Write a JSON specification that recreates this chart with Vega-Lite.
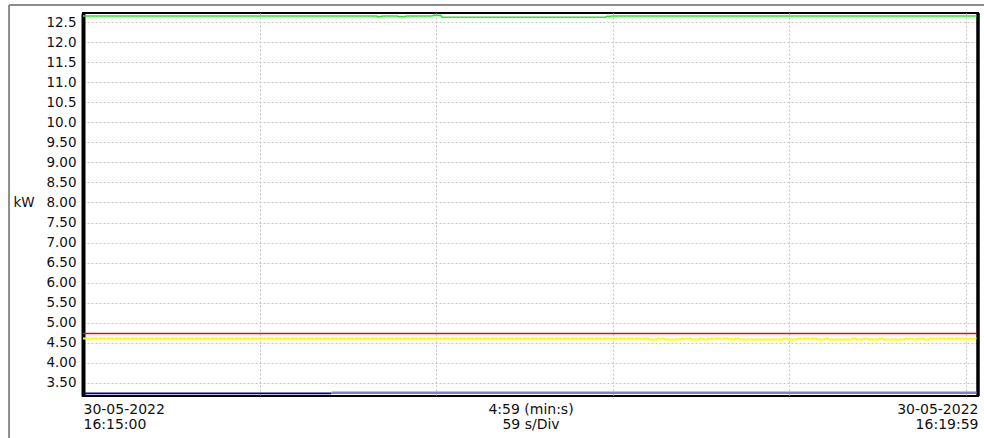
{
  "$schema": "https://vega.github.io/schema/vega-lite/v6.json",
  "width": 895,
  "height": 383,
  "autosize": {"type": "none"},
  "padding": {"left": 83, "top": 13, "right": 6, "bottom": 42},
  "background": "white",
  "config": {
    "view": {"stroke": "black", "strokeWidth": 2},
    "font": "DejaVu Sans"
  },
  "datasets": {
    "series": [
      {"k": "G", "s": 0, "v": 12.65}, {"k": "G", "s": 98, "v": 12.65}, {"k": "G", "s": 98.5, "v": 12.635}, {"k": "G", "s": 99.5, "v": 12.635}, {"k": "G", "s": 100, "v": 12.65},
      {"k": "G", "s": 105, "v": 12.65}, {"k": "G", "s": 105.5, "v": 12.635}, {"k": "G", "s": 107.5, "v": 12.635}, {"k": "G", "s": 108, "v": 12.65},
      {"k": "G", "s": 116.5, "v": 12.65}, {"k": "G", "s": 117, "v": 12.665}, {"k": "G", "s": 119.5, "v": 12.665}, {"k": "G", "s": 120, "v": 12.62},
      {"k": "G", "s": 174.5, "v": 12.62}, {"k": "G", "s": 175, "v": 12.64}, {"k": "G", "s": 176, "v": 12.64}, {"k": "G", "s": 176.5, "v": 12.65}, {"k": "G", "s": 298.5, "v": 12.65},
      {"k": "R", "s": 0, "v": 4.735}, {"k": "R", "s": 298.5, "v": 4.735},
      {"k": "Y", "s": 0, "v": 4.61}, {"k": "Y", "s": 189, "v": 4.61}, {"k": "Y", "s": 189.5, "v": 4.585}, {"k": "Y", "s": 191.5, "v": 4.585},
      {"k": "Y", "s": 192, "v": 4.61}, {"k": "Y", "s": 194, "v": 4.61}, {"k": "Y", "s": 194.5, "v": 4.585}, {"k": "Y", "s": 199.5, "v": 4.585},
      {"k": "Y", "s": 200, "v": 4.61}, {"k": "Y", "s": 203, "v": 4.61}, {"k": "Y", "s": 203.5, "v": 4.585}, {"k": "Y", "s": 205.5, "v": 4.585},
      {"k": "Y", "s": 206, "v": 4.61}, {"k": "Y", "s": 207, "v": 4.61}, {"k": "Y", "s": 207.5, "v": 4.585}, {"k": "Y", "s": 208.5, "v": 4.585},
      {"k": "Y", "s": 209, "v": 4.61}, {"k": "Y", "s": 216, "v": 4.61}, {"k": "Y", "s": 216.5, "v": 4.585}, {"k": "Y", "s": 217.5, "v": 4.585},
      {"k": "Y", "s": 218, "v": 4.61}, {"k": "Y", "s": 219, "v": 4.61}, {"k": "Y", "s": 219.5, "v": 4.585}, {"k": "Y", "s": 233.5, "v": 4.585},
      {"k": "Y", "s": 234, "v": 4.61}, {"k": "Y", "s": 235, "v": 4.61}, {"k": "Y", "s": 235.5, "v": 4.585}, {"k": "Y", "s": 238.5, "v": 4.585},
      {"k": "Y", "s": 239, "v": 4.61}, {"k": "Y", "s": 245, "v": 4.61}, {"k": "Y", "s": 245.5, "v": 4.585}, {"k": "Y", "s": 247.5, "v": 4.585},
      {"k": "Y", "s": 248, "v": 4.61}, {"k": "Y", "s": 249, "v": 4.61}, {"k": "Y", "s": 249.5, "v": 4.585}, {"k": "Y", "s": 256.5, "v": 4.585},
      {"k": "Y", "s": 257, "v": 4.61}, {"k": "Y", "s": 258, "v": 4.61}, {"k": "Y", "s": 258.5, "v": 4.585}, {"k": "Y", "s": 260.5, "v": 4.585},
      {"k": "Y", "s": 261, "v": 4.61}, {"k": "Y", "s": 262, "v": 4.61}, {"k": "Y", "s": 262.5, "v": 4.585}, {"k": "Y", "s": 265.5, "v": 4.585},
      {"k": "Y", "s": 266, "v": 4.61}, {"k": "Y", "s": 267, "v": 4.61}, {"k": "Y", "s": 267.5, "v": 4.585}, {"k": "Y", "s": 274.5, "v": 4.585},
      {"k": "Y", "s": 275, "v": 4.61}, {"k": "Y", "s": 277, "v": 4.61}, {"k": "Y", "s": 277.5, "v": 4.585}, {"k": "Y", "s": 278.5, "v": 4.585},
      {"k": "Y", "s": 279, "v": 4.61}, {"k": "Y", "s": 281, "v": 4.61}, {"k": "Y", "s": 281.5, "v": 4.585}, {"k": "Y", "s": 282.5, "v": 4.585},
      {"k": "Y", "s": 283, "v": 4.61}, {"k": "Y", "s": 295, "v": 4.61}, {"k": "Y", "s": 295.5, "v": 4.585}, {"k": "Y", "s": 296, "v": 4.585},
      {"k": "Y", "s": 296.5, "v": 4.61}, {"k": "Y", "s": 298.5, "v": 4.61},
      {"k": "B1", "s": 0, "v": 3.24}, {"k": "B1", "s": 83, "v": 3.24},
      {"k": "B2", "s": 83, "v": 3.255}, {"k": "B2", "s": 298.5, "v": 3.255}
    ],
    "frame": [
      {"k": "outer", "s": -24.7, "s2": 301.5, "v": 12.925, "v2": 12.925},
      {"k": "outer", "s": -24.7, "s2": -24.7, "v": 12.925, "v2": 2.0},
      {"k": "edge", "s": 299, "s2": 299, "v": 12.725, "v2": 3.175}
    ]
  },
  "encoding": {
    "x": {
      "field": "s",
      "type": "quantitative",
      "scale": {"domain": [0, 299], "nice": false, "zero": false},
      "axis": {
        "title": null,
        "values": [0, 59, 118, 149.5, 177, 236, 295, 299],
        "domain": false,
        "ticks": false,
        "grid": true,
        "gridColor": "#c4c4c4",
        "gridDash": [2, 2],
        "gridWidth": 1,
        "gridOpacity": {"condition": {"test": "datum.value % 59 == 0 && datum.value > 0", "value": 1}, "value": 0},
        "labelExpr": "datum.value == 0 ? ['30-05-2022', '16:15:00'] : datum.value == 149.5 ? ['4:59 (min:s)', '59 s/Div'] : datum.value == 299 ? ['30-05-2022', '16:19:59'] : ''",
        "labelFlush": true,
        "labelFlushOffset": 0,
        "labelOverlap": false,
        "labelBound": false,
        "labelFont": "DejaVu Sans",
        "labelFontSize": 14,
        "labelColor": "#111111",
        "labelBaseline": "top",
        "labelLineHeight": 15.5,
        "labelPadding": 6
      }
    },
    "y": {
      "field": "v",
      "type": "quantitative",
      "scale": {"domain": [3.175, 12.725], "nice": false, "zero": false},
      "axis": {
        "title": "kW",
        "titleAngle": 0,
        "titleAlign": "left",
        "titleBaseline": "middle",
        "titleX": -70,
        "titleY": 189,
        "titleFont": "DejaVu Sans",
        "titleFontSize": 13.5,
        "titleFontWeight": "normal",
        "titleColor": "#111111",
        "values": [3.5, 4, 4.5, 5, 5.5, 6, 6.5, 7, 7.5, 8, 8.5, 9, 9.5, 10, 10.5, 11, 11.5, 12, 12.5],
        "labelExpr": "datum.value >= 10 ? format(datum.value, '.1f') : format(datum.value, '.2f')",
        "labelFont": "DejaVu Sans",
        "labelFontSize": 13.5,
        "labelColor": "#111111",
        "labelPadding": 7,
        "labelOverlap": false,
        "ticks": false,
        "domain": true,
        "domainColor": "black",
        "domainWidth": 4,
        "grid": true,
        "gridColor": "#c4c4c4",
        "gridDash": [2, 2],
        "gridWidth": 1
      }
    }
  },
  "layer": [
    {
      "data": {"name": "frame"},
      "transform": [{"filter": "datum.k == 'outer'"}],
      "mark": {"type": "rule", "color": "#8c8c8c", "strokeWidth": 2, "clip": false},
      "encoding": {"x2": {"field": "s2"}, "y2": {"field": "v2"}}
    },
    {
      "data": {"name": "frame"},
      "transform": [{"filter": "datum.k == 'edge'"}],
      "mark": {"type": "rule", "color": "black", "strokeWidth": 3.5, "clip": false},
      "encoding": {"x2": {"field": "s2"}, "y2": {"field": "v2"}}
    },
    {
      "data": {"name": "series"},
      "transform": [{"filter": "datum.k == 'G'"}],
      "mark": {"type": "line", "color": "#22ee22", "strokeWidth": 1.6}
    },
    {
      "data": {"name": "series"},
      "transform": [{"filter": "datum.k == 'R'"}],
      "mark": {"type": "line", "color": "#e01010", "strokeWidth": 1.6}
    },
    {
      "data": {"name": "series"},
      "transform": [{"filter": "datum.k == 'Y'"}],
      "mark": {"type": "line", "color": "#ffff00", "strokeWidth": 2}
    },
    {
      "data": {"name": "series"},
      "transform": [{"filter": "datum.k == 'B1'"}],
      "mark": {"type": "line", "color": "#000090", "strokeWidth": 1.6}
    },
    {
      "data": {"name": "series"},
      "transform": [{"filter": "datum.k == 'B2'"}],
      "mark": {"type": "line", "color": "#7b7bf5", "strokeWidth": 2.5}
    }
  ]
}
